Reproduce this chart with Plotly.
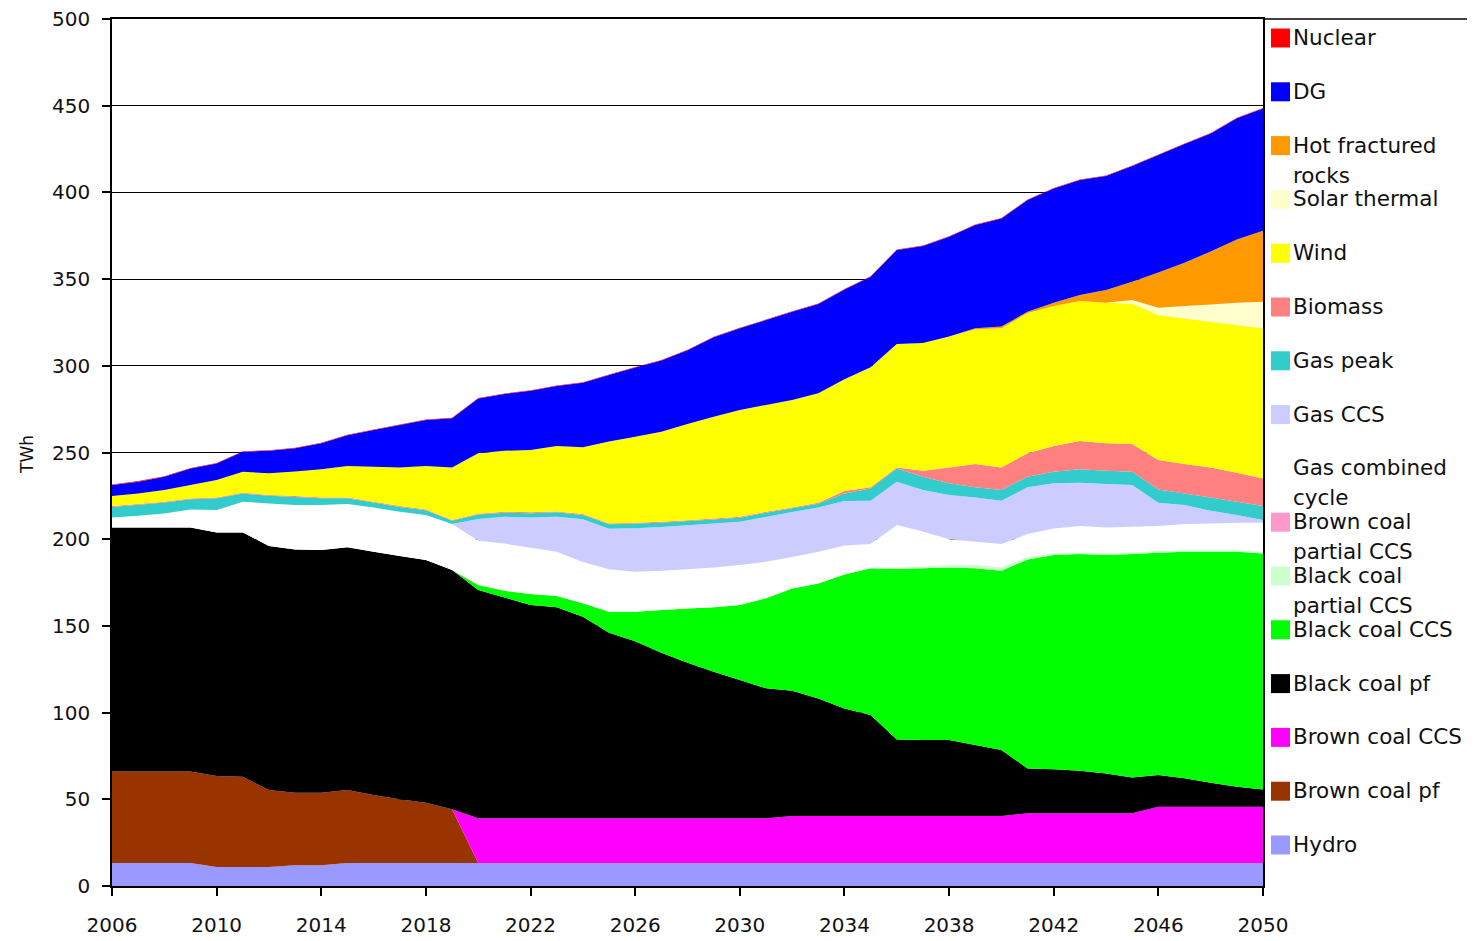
import plotly.graph_objects as go

years = list(range(2006, 2051))

hydro = [13.3, 13.3, 13.3, 13.3, 11.0, 11.0, 11.0, 12.0, 12.0, 13.3,
         13.3, 13.3, 13.3, 13.3, 13.3, 13.3, 13.3, 13.3, 13.3, 13.3,
         13.3, 13.3, 13.3, 13.3, 13.3, 13.3, 13.3, 13.3, 13.3, 13.3,
         13.3, 13.3, 13.3, 13.3, 13.3, 13.3, 13.3, 13.3, 13.3, 13.3,
         13.3, 13.3, 13.3, 13.3, 13.3]
brown_coal_pf = [52.7, 52.7, 52.7, 52.7, 52.4, 52.0, 44.4, 41.8, 41.8, 42.1,
                 39.2, 36.7, 34.7, 31.0, 0, 0, 0, 0, 0, 0,
                 0, 0, 0, 0, 0, 0, 0, 0, 0, 0,
                 0, 0, 0, 0, 0, 0, 0, 0, 0, 0,
                 0, 0, 0, 0, 0]
brown_coal_ccs = [0, 0, 0, 0, 0, 0, 0, 0, 0, 0,
                  0, 0, 0, 0, 25.7, 25.7, 25.7, 25.7, 25.7, 25.7,
                  25.7, 25.7, 25.7, 25.7, 25.7, 25.7, 27.1, 27.1, 27.1, 27.1,
                  27.1, 27.1, 27.1, 27.1, 27.1, 28.6, 28.6, 28.6, 28.6, 28.6,
                  32.4, 32.4, 32.4, 32.4, 32.4]
black_coal_pf = [140.8, 140.8, 140.8, 140.8, 140.5, 140.9, 140.7, 140.3, 140.0, 139.9,
                 140.2, 140.3, 140.0, 137.9, 131.7, 127.4, 123.0, 121.7, 116.3, 107.1,
                 102.1, 95.5, 89.7, 84.5, 79.8, 75.0, 72.2, 67.8, 62.0, 58.2,
                 44.1, 43.8, 43.8, 40.9, 38.0, 25.9, 25.4, 24.5, 23.0, 20.7,
                 18.3, 16.4, 13.8, 11.5, 10.0]
black_coal_ccs = [0, 0, 0, 0, 0, 0, 0, 0, 0, 0,
                  0, 0, 0, 0, 2.9, 3.9, 6.4, 6.5, 7.7, 12.1,
                  17.1, 24.7, 31.4, 37.2, 43.2, 51.9, 59.0, 66.3, 77.2, 84.6,
                  98.5, 99.0, 99.5, 101.9, 103.4, 120.5, 123.6, 125.1, 126.0, 128.9,
                  128.2, 130.6, 133.2, 135.5, 136.1]
black_coal_partial_ccs = [0, 0, 0, 0, 0, 0, 0, 0, 0, 0,
                          0, 0, 0, 0, 0, 0, 0, 0, 0, 0,
                          0, 0, 0, 0, 0, 0, 0, 0, 0, 0,
                          0.5, 1.0, 1.5, 2.0, 2.0, 1.5, 1.0, 1.0, 1.0, 1.0,
                          1.0, 1.0, 1.0, 1.0, 1.0]
brown_coal_partial_ccs = [0, 0, 0, 0, 0, 0, 0, 0, 0, 0,
                          0, 0, 0, 0, 0, 0, 0, 0, 0, 0,
                          0, 0, 0, 0, 0, 0, 0, 0, 0, 0,
                          0, 0, 0, 0, 0, 0, 0, 0, 0, 0,
                          0, 0, 0, 0, 0]
gas_combined_cycle = [5.7, 6.7, 8.0, 10.4, 12.9, 17.7, 24.5, 25.6, 25.9, 25.0,
                      25.6, 25.5, 25.9, 26.6, 25.5, 27.2, 26.6, 25.5, 23.9, 24.4,
                      23.0, 22.6, 22.5, 23.0, 23.1, 21.1, 18.2, 18.2, 16.8, 14.0,
                      24.7, 20.2, 14.8, 13.4, 13.4, 13.2, 14.3, 15.1, 14.9, 14.7,
                      14.4, 15.1, 15.4, 15.8, 16.7]
gas_ccs = [0, 0, 0, 0, 0, 0, 0, 0, 0, 0,
           0, 0, 0, 0, 12.6, 15.4, 17.5, 20.3, 24.6, 23.4,
           25.1, 25.2, 25.4, 25.3, 24.9, 25.8, 25.9, 25.6, 25.6, 25.0,
           25.0, 24.0, 25.5, 25.5, 25.0, 26.9, 26.0, 25.0, 25.0, 24.1,
           13.4, 10.9, 7.3, 4.4, 1.6]
gas_peak = [6.1, 6.3, 6.3, 5.8, 6.8, 4.7, 4.4, 4.7, 3.9, 3.3,
            2.8, 2.8, 2.8, 1.8, 2.5, 2.4, 2.5, 2.5, 2.5, 2.6,
            2.7, 2.5, 2.5, 2.4, 2.4, 2.5, 2.1, 2.2, 4.3, 7.1,
            7.6, 7.6, 6.7, 5.8, 6.2, 6.1, 6.7, 7.7, 7.7, 7.6,
            7.7, 6.7, 7.7, 7.7, 8.0]
biomass = [0.5, 0.5, 0.5, 0.5, 0.5, 0.5, 0.5, 0.5, 0.5, 0.5,
           0.5, 0.5, 0.5, 0.5, 0.5, 0.5, 0.5, 0.5, 0.5, 0.5,
           0.5, 0.5, 0.5, 0.5, 0.5, 0.5, 0.5, 0.5, 1.5, 0.6,
           0.6, 3.5, 9.2, 13.5, 13.0, 13.5, 14.8, 16.3, 15.8, 16.0,
           17.0, 17.0, 17.3, 16.7, 15.9]
wind = [5.8, 6.1, 6.8, 7.8, 10.0, 12.1, 12.5, 14.1, 16.2, 18.1,
        20.2, 22.3, 25.0, 30.3, 34.8, 35.2, 35.9, 37.7, 38.5, 47.2,
        49.6, 52.0, 55.4, 58.7, 61.6, 61.6, 62.0, 63.1, 64.4, 69.3,
        71.2, 73.6, 75.5, 77.7, 80.2, 80.9, 80.8, 80.8, 81.1, 81.1,
        83.6, 83.9, 84.0, 85.2, 86.6]
solar_thermal = [0, 0, 0, 0, 0, 0, 0, 0, 0, 0,
                 0, 0, 0, 0, 0, 0, 0, 0, 0, 0,
                 0, 0, 0, 0, 0, 0, 0, 0, 0, 0,
                 0, 0, 0, 0, 0, 0, 0, 0, 0, 2.0,
                 4.2, 7.2, 10.0, 12.9, 15.3]
hot_fractured_rocks = [0, 0, 0, 0, 0, 0, 0, 0, 0, 0,
                       0, 0, 0, 0, 0, 0, 0, 0, 0, 0,
                       0, 0, 0, 0, 0, 0, 0, 0, 0, 0,
                       0, 0, 0, 0.5, 1.0, 0.8, 1.9, 3.4, 7.3, 10.5,
                       20.3, 25.0, 30.5, 36.5, 41.0]
dg = [6.4, 6.8, 7.6, 9.5, 9.6, 11.5, 13.0, 13.4, 15.0, 17.8,
      21.2, 24.5, 26.5, 28.4, 31.7, 32.7, 34.2, 34.7, 37.2, 38.4,
      39.9, 41.0, 42.6, 45.8, 47.1, 49.0, 50.9, 51.5, 51.8, 52.1,
      54.2, 56.0, 57.5, 59.6, 62.4, 64.4, 65.9, 66.4, 65.8, 66.7,
      67.8, 68.4, 68.1, 69.8, 70.5]
nuclear = [0.3, 0.3, 0.3, 0.3, 0.3, 0.3, 0.3, 0.3, 0.3, 0.3,
           0.3, 0.3, 0.3, 0.3, 0.3, 0.3, 0.3, 0.3, 0.3, 0.3,
           0.3, 0.3, 0.3, 0.3, 0.3, 0.3, 0.3, 0.3, 0.3, 0.3,
           0.3, 0.3, 0.3, 0.3, 0.3, 0.3, 0.3, 0.3, 0.3, 0.3,
           0.3, 0.3, 0.3, 0.3, 0.3]

# bottom -> top stacking order
series = [
    ("Hydro", hydro, "#9999FF"),
    ("Brown coal pf", brown_coal_pf, "#993300"),
    ("Brown coal CCS", brown_coal_ccs, "#FF00FF"),
    ("Black coal pf", black_coal_pf, "#000000"),
    ("Black coal CCS", black_coal_ccs, "#00FF00"),
    ("Black coal partial CCS", black_coal_partial_ccs, "#CCFFCC"),
    ("Brown coal partial CCS", brown_coal_partial_ccs, "#FF99CC"),
    ("Gas combined cycle", gas_combined_cycle, "#FFFFFF"),
    ("Gas CCS", gas_ccs, "#CCCCFF"),
    ("Gas peak", gas_peak, "#33CCCC"),
    ("Biomass", biomass, "#FF8080"),
    ("Wind", wind, "#FFFF00"),
    ("Solar thermal", solar_thermal, "#FFFFCC"),
    ("Hot fractured rocks", hot_fractured_rocks, "#FF9900"),
    ("DG", dg, "#0000FF"),
    ("Nuclear", nuclear, "#FF0000"),
]

# legend entries (top -> bottom): text lines
legend_items = [
    ("Nuclear", ["Nuclear"]),
    ("DG", ["DG"]),
    ("Hot fractured rocks", ["Hot fractured", "rocks"]),
    ("Solar thermal", ["Solar thermal"]),
    ("Wind", ["Wind"]),
    ("Biomass", ["Biomass"]),
    ("Gas peak", ["Gas peak"]),
    ("Gas CCS", ["Gas CCS"]),
    ("Gas combined cycle", ["Gas combined", "cycle"]),
    ("Brown coal partial CCS", ["Brown coal", "partial CCS"]),
    ("Black coal partial CCS", ["Black coal", "partial CCS"]),
    ("Black coal CCS", ["Black coal CCS"]),
    ("Black coal pf", ["Black coal pf"]),
    ("Brown coal CCS", ["Brown coal CCS"]),
    ("Brown coal pf", ["Brown coal pf"]),
    ("Hydro", ["Hydro"]),
]

fig = go.Figure()
for name, vals, col in series:
    fig.add_trace(go.Scatter(
        x=years, y=vals, name=name, mode="none", stackgroup="one",
        fillcolor=col, line=dict(width=0), showlegend=False,
    ))

# page geometry (screen pixels); the page body adds an 8px offset
OFF = 8
W, H = 1475 - OFF, 941 - OFF
L, R, T, B = 112 - OFF, 1263 - OFF, 19 - OFF, 886 - OFF
pw, ph = R - L, B - T


def px(x):
    return (x - OFF - L) / pw


def py(y):
    return (B - (y - OFF)) / ph


FONT = "DejaVu Sans"
colors = {n: c for n, _, c in series}
shapes = []
annotations = []

# legend box top border
shapes.append(dict(type="line", xref="paper", yref="paper",
                   x0=1, x1=px(1480), y0=1, y1=1,
                   line=dict(color="black", width=1.5)))

first_y = 37.5
step = 53.8
for i, (name, lines) in enumerate(legend_items):
    yc = first_y + i * step
    shapes.append(dict(type="rect", xref="paper", yref="paper",
                       x0=px(1271), x1=px(1290), y0=py(yc + 10), y1=py(yc - 9),
                       fillcolor=colors[name], line=dict(width=0)))
    for j, txt in enumerate(lines):
        annotations.append(dict(
            text=txt, xref="paper", yref="paper",
            x=px(1291), y=py(yc + j * 30), xanchor="left", yanchor="middle",
            showarrow=False, font=dict(family=FONT, size=21.5, color="#111"),
        ))

annotations.append(dict(
    text="TWh", xref="paper", yref="paper", x=px(27), y=py(455),
    xanchor="center", yanchor="middle", textangle=-90, showarrow=False,
    font=dict(family=FONT, size=17, color="#111"),
))

fig.update_layout(
    width=W, height=H,
    margin=dict(l=L, r=W - R, t=T, b=H - B, pad=0, autoexpand=False),
    plot_bgcolor="white", paper_bgcolor="white",
    showlegend=False,
    font=dict(family=FONT, size=20, color="#111"),
    shapes=shapes, annotations=annotations,
    xaxis=dict(
        range=[2006, 2050], tickmode="array",
        tickvals=[2006, 2010, 2014, 2018, 2022, 2026, 2030, 2034, 2038, 2042, 2046, 2050],
        ticks="outside", ticklen=8, tickwidth=1.5, tickcolor="black",
        showline=True, linecolor="black", linewidth=1.5, mirror=True,
        showgrid=False, zeroline=False, ticklabelstandoff=12, automargin=False,
        ticklabeloverflow="allow",
        tickfont=dict(family=FONT, size=20, color="#111"),
    ),
    yaxis=dict(
        range=[0, 500], dtick=50, tick0=0,
        ticks="outside", ticklen=8, tickwidth=1.5, tickcolor="black",
        showline=True, linecolor="black", linewidth=1.5, mirror=True,
        showgrid=True, gridcolor="black", gridwidth=1.2, zeroline=False,
        ticklabelstandoff=8, automargin=False, ticklabeloverflow="allow",
        tickfont=dict(family=FONT, size=20, color="#111"),
    ),
)

fig.write_html("out.html")
